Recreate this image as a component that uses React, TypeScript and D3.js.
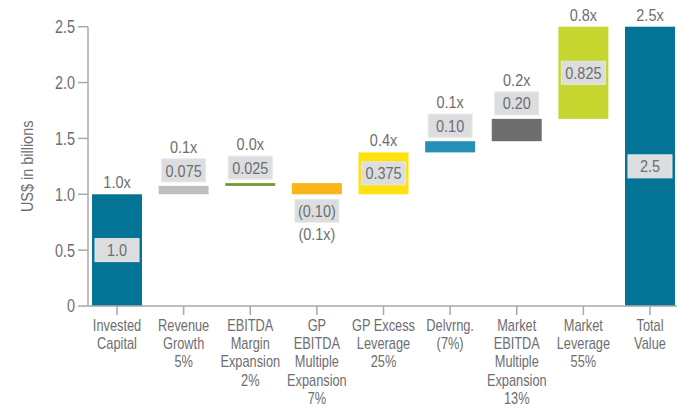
import React from "react";
import * as d3 from "d3";

const categories = [
  "Invested Capital",
  "Revenue Growth",
  "EBITDA Margin Expansion",
  "GP EBITDA Multiple Expansion",
  "GP Excess Leverage",
  "Delvrng.",
  "Market EBITDA Multiple Expansion",
  "Market Leverage",
  "Total Value",
];
const categoryLines = [
  ["Invested", "Capital"],
  ["Revenue", "Growth", "5%"],
  ["EBITDA", "Margin", "Expansion", "2%"],
  ["GP", "EBITDA", "Multiple", "Expansion", "7%"],
  ["GP Excess", "Leverage", "25%"],
  ["Delvrng.", "(7%)"],
  ["Market", "EBITDA", "Multiple", "Expansion", "13%"],
  ["Market", "Leverage", "55%"],
  ["Total", "Value"],
];
const barKinds = ["total", "delta", "delta", "delta", "delta", "delta", "delta", "delta", "total"];
const values = [1.0, 0.075, 0.025, -0.1, 0.375, 0.1, 0.2, 0.825, 2.5];
const valueLabels = ["1.0", "0.075", "0.025", "(0.10)", "0.375", "0.10", "0.20", "0.825", "2.5"];
const multipleLabels = ["1.0x", "0.1x", "0.0x", "(0.1x)", "0.4x", "0.1x", "0.2x", "0.8x", "2.5x"];
const yTicks = [0, 0.5, 1.0, 1.5, 2.0, 2.5];
const colors = ["#037396", "#bdbec0", "#6e9b30", "#fbb41a", "#ffe10f", "#2590b5", "#6d6e70", "#c5d72f", "#037396"];

const FONT = "'Liberation Sans', Arial, sans-serif";
const TEXT = "#6d6e71";
const AXIS = "#a7a9ac";
const BOX = "#dcdddf";
const SX = 0.8;

function T({ x, y, size = 16, anchor = "middle", dy, sx = SX, children }: any) {
  return (
    <text
      transform={`translate(${x},${y}) scale(${sx},1)`}
      textAnchor={anchor}
      dy={dy}
      fontSize={size}
      fill={TEXT}
    >
      {children}
    </text>
  );
}

export default function App() {
  const W = 684, H = 408;
  const x = d3.scaleBand<string>().domain(categories).range([83.7, 683.3]).paddingInner(0.25).paddingOuter(0.125);
  const y = d3.scaleLinear().domain([0, 2.5]).range([306, 26.7]);

  let cum = 0;
  const bars = categories.map((c, i) => {
    let y0: number, y1: number;
    if (barKinds[i] === "total") {
      y0 = 0; y1 = values[i]; cum = values[i];
    } else {
      y0 = cum; y1 = cum + values[i]; cum = y1;
    }
    return { c, i, lo: Math.min(y0, y1), hi: Math.max(y0, y1), neg: values[i] < 0 };
  });

  const bw = x.bandwidth();
  const boxW = 44, boxH = 23;

  return (
    <svg width={W} height={H} style={{ position: "absolute", left: 0, top: 0 }} fontFamily={FONT}>
      <rect width={W} height={H} fill="#fff" />
      {/* y axis */}
      <line x1={88} x2={88} y1={y(2.5)} y2={y(0)} stroke={AXIS} strokeWidth={1.5} />
      {yTicks.map((t) => (
        <g key={t}>
          <line x1={78} x2={88} y1={y(t)} y2={y(t)} stroke={AXIS} strokeWidth={1.5} />
          <T x={75} y={y(t)} dy="0.36em" anchor="end" size={18}>
            {t === 0 ? "0" : d3.format(".1f")(t)}
          </T>
        </g>
      ))}
      <text
        transform={`translate(27,${(y(0) + y(2.5)) / 2}) rotate(-90) scale(0.85,1)`}
        textAnchor="middle"
        fontSize={17}
        fill={TEXT}
        dy="0.36em"
      >
        US$ in billions
      </text>
      {/* bars */}
      {bars.map((b) => {
        const cx = (x(b.c) as number) + bw / 2;
        const top = y(b.hi), bot = y(b.lo);
        const h = bot - top;
        const inside = h > 30;
        let boxCy: number, multY: number;
        if (inside) {
          boxCy = (top + bot) / 2;
          multY = top - 6;
        } else if (b.neg) {
          boxCy = bot + 5 + boxH / 2;
          multY = boxCy + boxH / 2 + 18;
        } else {
          boxCy = top - 4 - boxH / 2;
          multY = boxCy - boxH / 2 - 6;
        }
        return (
          <g key={b.c}>
            <rect x={x(b.c)} y={top} width={bw} height={Math.max(h, 1)} fill={colors[b.i]} />
            <rect x={cx - boxW / 2} y={boxCy - boxH / 2} width={boxW} height={boxH} fill={BOX} stroke="#e8e8e9" strokeWidth={1} />
            <T x={cx} y={boxCy} dy="0.36em" size={17} sx={0.85}>{valueLabels[b.i]}</T>
            <T x={cx} y={multY} size={17} sx={0.85}>{multipleLabels[b.i]}</T>
          </g>
        );
      })}
      {/* x axis */}
      <line x1={88} x2={677} y1={y(0)} y2={y(0)} stroke={AXIS} strokeWidth={1.5} />
      {categories.map((c, i) => {
        const cx = (x(c) as number) + bw / 2;
        return (
          <g key={c}>
            <line x1={cx} x2={cx} y1={y(0)} y2={y(0) + 9} stroke={AXIS} strokeWidth={1.5} />
            {categoryLines[i].map((ln, k) => (
              <T key={k} x={cx} y={331 + k * 18.2} size={16}>{ln}</T>
            ))}
          </g>
        );
      })}
    </svg>
  );
}
